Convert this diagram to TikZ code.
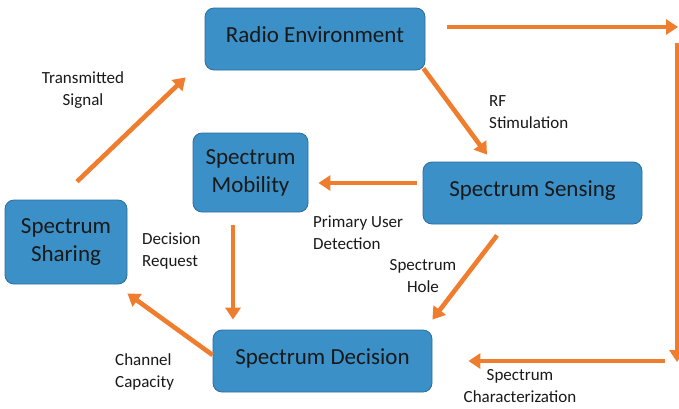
\documentclass[tikz,border=0pt]{standalone}
\usepackage{fontspec}
\setmainfont{Carlito}
\usetikzlibrary{arrows.meta,calc}
\definecolor{boxblue}{RGB}{59,144,199}
\definecolor{boxedge}{RGB}{45,108,158}
\definecolor{arr}{RGB}{240,125,46}
\definecolor{txt}{RGB}{25,25,25}
\begin{document}
\begin{tikzpicture}[x=1pt,y=-1pt,
  box/.style={draw=boxedge, line width=0.8pt, fill=boxblue, rounded corners=9pt,
    inner sep=0pt, font=\fontsize{23}{28}\selectfont, align=center, text=txt},
  lbl/.style={font=\fontsize{17}{22}\selectfont, text=txt, inner sep=0pt},
  conn/.style={draw=arr, line width=4.6pt, -{Triangle[length=12pt,width=15pt]}}]
\useasboundingbox (0,0) rectangle (679,408);
\clip (0,0) rectangle (679,408);
\node[box, minimum width=220pt, minimum height=62pt] (re) at (315,39) {\raisebox{8pt}{Radio Environment}};
\node[box, minimum width=115pt, minimum height=79pt] (sm) at (250.5,172.5) {Spectrum\\Mobility};
\node[box, minimum width=219pt, minimum height=62pt] (ss) at (532.5,193) {\raisebox{8pt}{Spectrum Sensing}};
\node[box, minimum width=122pt, minimum height=84pt] (sh) at (66,242) {Spectrum\\Sharing};
\node[box, minimum width=219pt, minimum height=62pt] (sd) at (322.5,361) {\raisebox{8pt}{Spectrum Decision}};
\coordinate (c1) at (678,27);
\coordinate (c2) at (677,43);
\coordinate (c3) at (677,362);
\coordinate (c4) at (665,361);
\draw[conn] ($(re.east)+(22,-12)$) -- (c1);
\draw[conn] (c2) -- (c3);
\draw[conn] (c4) -- ($(sd.east)+(36,0)$);
\draw[conn] ($(re.south east)+(-2,-2)$) -- ($(ss.north)+(-45.5,-7)$);
\draw[conn] ($(ss.west)+(-6,-10)$) -- ($(sm.east)+(10,10.5)$);
\draw[conn] ($(sm.south)+(-17.5,13)$) -- ($(sd.north)+(-89.5,-10)$);
\draw[conn] ($(ss.south)+(-35.5,11)$) -- ($(sd.north east)+(0,-10)$);
\draw[conn] ($(sd.west)+(0,-6)$) -- ($(sh.south east)+(0,9)$);
\draw[conn] ($(sh.north)+(11,-18)$) -- ($(re.south west)+(-19,7)$);
\node[lbl, align=center] (l1) at (83,90) {Transmitted\\Signal};
\node[lbl, align=left, anchor=west] (l2) at (489,112.5) {RF\\Stimulation};
\node[lbl, align=left, anchor=west] (l3) at (313,232.5) {Primary User\\Detection};
\node[lbl, align=left, anchor=west] (l4) at (142,251.5) {Decision\\Request};
\node[lbl, align=center] (l5) at (423,276) {Spectrum\\Hole};
\node[lbl, align=left, anchor=west] (l6) at (115,371.5) {Channel\\Capacity};
\node[lbl, align=center] (l7) at (520,386) {Spectrum\\Characterization};
\end{tikzpicture}
\end{document}
